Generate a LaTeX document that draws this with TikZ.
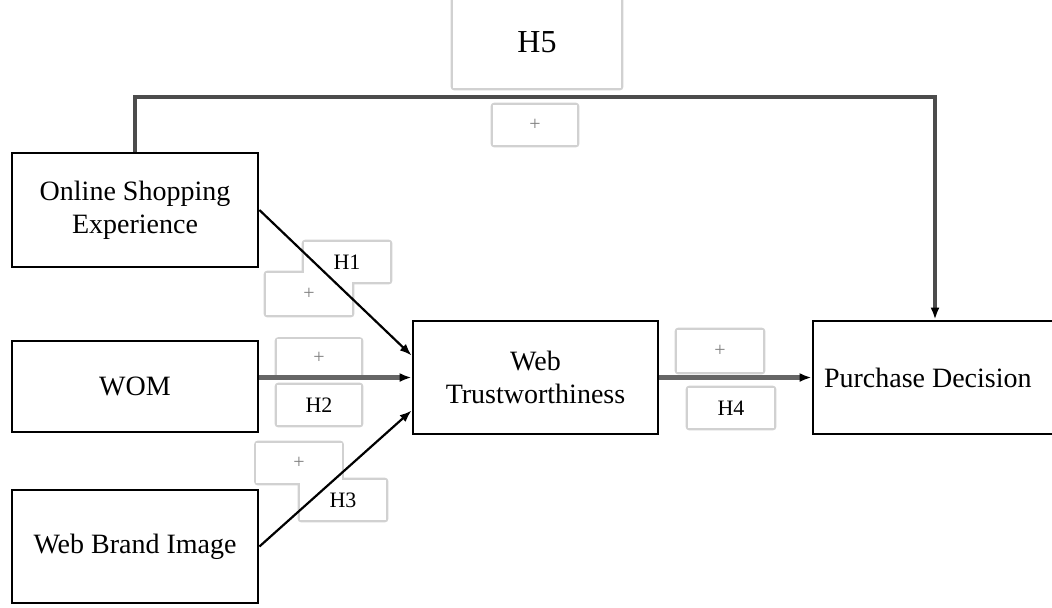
\documentclass[tikz,border=0pt]{standalone}
\usepackage{fontspec}
\setmainfont{Liberation Serif}
\usetikzlibrary{arrows.meta,calc,positioning}
\pgfdeclarelayer{background}
\pgfsetlayers{background,main}

\begin{document}
\begin{tikzpicture}[
x=0.5pt, y=-0.5pt,
box/.style={
  draw,
  line width=1.4pt,
  align=center,
  inner sep=0pt,
  font=\fontsize{14}{16.5}\selectfont
  },
hyp/.style={
  inner sep=0pt,
  minimum width=43pt,
  minimum height=20pt,
  font=\fontsize{11}{13}\selectfont
  },
sign/.style={
  hyp,
  text=black!50,
  font=\fontsize{10}{12}\selectfont
  },
edge/.style={
  line width=1.1pt
  },
heavy/.style={
  line width=2.2pt,
  black!60
  },
>={Latex[length=6pt,width=4.5pt,color=black]}
]
\useasboundingbox (0,0) rectangle (1052,607);
% constructs
\node[box, minimum width=123pt, minimum height=57pt] (ose) at (135,210) {Online Shopping\\Experience};
\node[box, minimum width=123pt, minimum height=45.5pt] (wom) at (135,386.5) {WOM};
\node[box, minimum width=123pt, minimum height=56.5pt] (wbi) at (135,546.5) {Web Brand Image};
\node[box, minimum width=122.5pt, minimum height=56.5pt] (wt) at (535.5,377.5) {Web\\Trustworthiness};
\node[box, minimum width=122pt, minimum height=56.5pt, text width=117pt, align=flush left] (pd) at (935,377.5) {\hspace*{3pt}Purchase Decision};
% hypothesis labels
\node[hyp, minimum width=84pt, minimum height=46pt, font=\fontsize{16}{19}\selectfont] (h5) at (537,42) {H5};
\node[sign, minimum width=42pt] (s5) at (535,125) {+};
\node[hyp] (h1) at (347,262) {H1};
\node[sign, minimum height=21pt] (s1) at (309,294) {+};
\node[sign, minimum width=42pt, minimum height=18.5pt] (s2) at (319,358) {+};
\node[hyp, minimum width=42pt] (h2) at (319,405) {H2};
\node[sign, minimum width=42.5pt] (s3) at (299,463) {+};
\node[hyp] (h3) at (343,500) {H3};
\node[sign, minimum height=21pt] (s4) at (720,351) {+};
\node[hyp] (h4) at (731,408) {H4};
\begin{pgfonlayer}{background}
  \foreach \n in {h5,s5,h1,s1,s2,h2,s3,h3,s4,h4}
    \draw[black!18, line width=2pt, rounded corners=1pt] (\n.south west) rectangle (\n.north east);
  \foreach \n in {h5,s5,h1,s1,s2,h2,s3,h3,s4,h4}
    \fill[white] (\n.south west) rectangle (\n.north east);
\end{pgfonlayer}
% paths
\coordinate (top) at (535,97);
\draw[->, heavy, line width=1.6pt, black!70] (ose.north) |- (top) -| (pd.north);
\draw[->, edge] (ose.east) -- ($(wt.west)+(0,-22)$);
\draw[->, heavy] (wom.east |- wt.west) -- (wt.west);
\draw[->, edge] (wbi.east) -- ($(wt.west)+(0,33)$);
\draw[->, heavy] (wt.east) -- (pd.west);
\end{tikzpicture}
\end{document}
